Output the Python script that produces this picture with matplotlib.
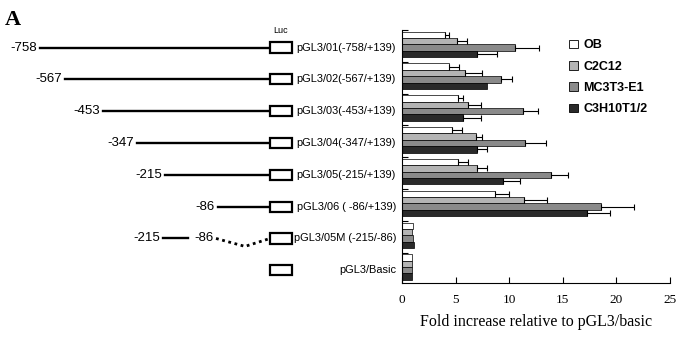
import numpy as np
import matplotlib.pyplot as plt
from matplotlib.patches import Rectangle, Patch

# constructs, top to bottom
constructs = ['pGL3/01(-758/+139)', 'pGL3/02(-567/+139)', 'pGL3/03(-453/+139)',
              'pGL3/04(-347/+139)', 'pGL3/05(-215/+139)', 'pGL3/06 ( -86/+139)',
              'pGL3/05M (-215/-86)', 'pGL3/Basic']
promoter_start = ['-758', '-567', '-453', '-347', '-215', '-86']

cells = ['OB', 'C2C12', 'MC3T3-E1', 'C3H10T1/2']
fold = {
    'OB':        [4.0, 4.4, 5.2, 4.7, 5.2, 8.7, 1.0, 0.9],
    'C2C12':     [5.1, 5.9, 6.2, 6.9, 7.0, 11.4, 0.9, 0.9],
    'MC3T3-E1':  [10.5, 9.2, 11.3, 11.5, 13.9, 18.6, 1.0, 0.9],
    'C3H10T1/2': [7.0, 7.9, 5.7, 7.0, 9.4, 17.3, 1.1, 0.9],
}
err = {
    'OB':        [0.4, 0.9, 0.5, 0.9, 1.0, 1.3, 0.0, 0.0],
    'C2C12':     [1.0, 1.6, 1.2, 0.6, 0.9, 2.1, 0.0, 0.0],
    'MC3T3-E1':  [2.3, 1.1, 1.4, 1.9, 1.6, 3.0, 0.0, 0.0],
    'C3H10T1/2': [1.9, 0.0, 1.7, 0.9, 1.6, 2.1, 0.0, 0.0],
}
colors = ['#ffffff', '#b4b4b4', '#8a8a8a', '#2a2a2a']

W, H = 679, 341
fig = plt.figure(figsize=(W / 100, H / 100), dpi=100)
ylim = (7.5, -0.45)

# ---- bar panel ----
ax = fig.add_axes([402 / W, 1 - 283 / H, 268 / W, 253 / H])
n = len(constructs)
y = np.arange(n)
bh = 0.2
for k, c in enumerate(cells):
    pos = y + (k - 1.5) * bh
    ax.barh(pos, fold[c], height=bh, color=colors[k], edgecolor='black', linewidth=0.5)
    e = np.array(err[c])
    m = e > 0
    ax.errorbar(np.array(fold[c])[m], pos[m], xerr=[np.zeros(m.sum()), e[m]],
                fmt='none', ecolor='black', elinewidth=0.8, capsize=2.2, capthick=0.8)
ax.set_xlim(0, 25)
ax.set_ylim(*ylim)
ax.set_xticks([0, 5, 10, 15, 20, 25])
ax.set_yticks(np.arange(n) - 0.45)
ax.set_yticklabels([])
ax.tick_params(axis='y', direction='in', length=4, width=0.8)
ax.tick_params(axis='x', direction='in', length=4, width=0.8, pad=8, labelsize=9.5)
for lab in ax.get_xticklabels():
    lab.set_family('Liberation Serif')
for s in ['top', 'right']:
    ax.spines[s].set_visible(False)
ax.spines['left'].set_linewidth(0.8)
ax.spines['bottom'].set_linewidth(0.8)
ax.set_xlabel('Fold increase relative to pGL3/basic', family='Liberation Serif',
              fontsize=11.5, labelpad=6)

handles = [Patch(facecolor=colors[k], edgecolor='black', linewidth=0.6) for k in range(4)]
leg = fig.legend(handles, cells, loc='upper left', bbox_to_anchor=(558 / W, 1 - 28 / H),
                 frameon=False, handlelength=0.7, handleheight=0.7, handletextpad=0.4,
                 labelspacing=0.75, prop={'family': 'Liberation Sans', 'weight': 'bold', 'size': 9})

# ---- construct diagram ----
dx = fig.add_axes([0, 1 - 283 / H, 402 / W, 253 / H])
dx.set_xlim(0, 402)
dx.set_ylim(*ylim)
dx.axis('off')
narrow = ['Liberation Sans Narrow', 'Liberation Sans']
line_x0 = [40, 65, 103, 137, 165, 218]
box_x, box_w, box_h = 270, 22, 0.32
yoff = 0.1
for i in range(n):
    yy = i + yoff
    dx.add_patch(Rectangle((box_x, yy - box_h / 2), box_w, box_h, facecolor='white',
                           edgecolor='black', linewidth=1.6, zorder=3))
    dx.text(396, yy, constructs[i], ha='right', va='center', fontsize=7.9, family=narrow)
    if i < len(line_x0):
        dx.plot([line_x0[i], box_x], [yy, yy], color='black', lw=1.7)
        dx.text(line_x0[i] - 3, yy, promoter_start[i], ha='right', va='center',
                fontsize=9.5, family='Liberation Sans')
# mutant construct: -215 ... -86 with deleted region
yy = 6 + yoff
dx.text(160, yy, '-215', ha='right', va='center', fontsize=9.5, family='Liberation Sans')
dx.plot([163, 188], [yy, yy], color='black', lw=1.7)
dx.text(214, yy, '-86', ha='right', va='center', fontsize=9.5, family='Liberation Sans')
dx.plot([216, 245, box_x], [yy, yy + 0.25, yy], color='black', lw=2, ls=(0, (1, 1.3)))
dx.text(box_x + box_w / 2, -0.3, 'Luc', ha='center', va='bottom', fontsize=6.5,
        family='Liberation Sans')

fig.text(5 / W, 1 - 20 / H, 'A', ha='left', va='center', fontsize=16, fontweight='bold',
         family='Liberation Serif')

fig.savefig('out.png', dpi=100)
